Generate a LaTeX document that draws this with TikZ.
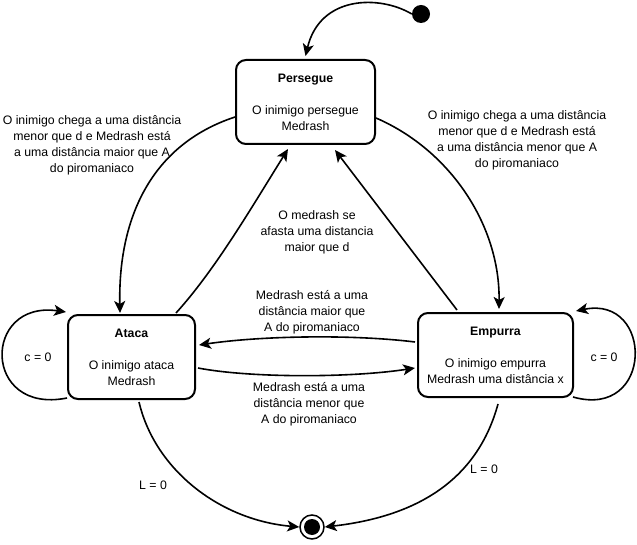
\documentclass[tikz,border=0pt]{standalone}
\usepackage{fontspec}
\setmainfont{Liberation Sans}
\usetikzlibrary{arrows.meta,calc}
\begin{document}
\begin{tikzpicture}[x=1pt,y=-1pt,
  font=\fontsize{12.3}{16}\selectfont,
  state/.style={draw,line width=2pt,rounded corners=10pt,align=center,minimum height=84pt,inner sep=0pt},
  lbl/.style={align=center,inner sep=0pt},
  tr/.style={line width=1.6pt,-{Stealth[length=12pt,width=11pt,inset=3pt]}},
]
\fill[white] (0,0) rectangle (637,545);
\useasboundingbox (0,0) rectangle (637,545);
% states
\node[state,minimum width=139pt] (p) at (305.5,102) {\textbf{Persegue}\\[16pt]O inimigo persegue\\Medrash};
\node[state,minimum width=127pt] (a) at (131.5,357) {\textbf{Ataca}\\[16pt]O inimigo ataca\\Medrash};
\node[state,minimum width=155pt] (e) at (495.5,355) {\textbf{Empurra}\\[16pt]O inimigo empurra\\Medrash uma distância x};
\node[circle,fill,inner sep=0pt,minimum size=18pt] (init) at (421,14) {};
\node[circle,draw,line width=1.5pt,inner sep=0pt,minimum size=24pt] (fin) at (312,527) {};
\node[circle,fill,inner sep=0pt,minimum size=16pt] (finc) at (fin) {};
% transitions
\draw[tr] (init.west) .. controls (380,-5) and (320,-5) .. ($(p.north)+(0,-3)$);
\draw[tr] ($(p.west)+(0,15)$) .. controls (150,145) and (118,220) .. ($(a.north)+(-11.5,-1)$);
\draw[tr] ($(a.north)+(44.5,-1)$) .. controls (215,270) and (250,210) .. ($(p.south)+(-17.5,4)$);
\draw[tr] ($(p.east)+(0,16)$) .. controls (450,150) and (500,225) .. ($(e.north)+(3.5,-3)$);
\draw[tr] ($(e.north)+(-38.5,-2)$) -- ($(p.south)+(29.5,5)$);
\draw[tr] ($(e.west)+(-2,-13)$) .. controls (350,334) and (260,336) .. ($(a.east)+(3,-12)$);
\draw[tr] ($(a.east)+(2,11)$) .. controls (250,378) and (350,378) .. ($(e.west)+(-2,13)$);
\draw[tr] ($(a.west)+(0,41)$) .. controls (-18,415) and (-18,300) .. ($(a.north west)+(-1,-2)$);
\draw[tr] ($(e.east)+(-1,42)$) .. controls (654,420) and (654,295) .. ($(e.north east)+(2,-1)$);
\draw[tr] ($(a.south)+(7.5,2)$) .. controls (155,470) and (220,520) .. (fin.west);
\draw[tr] ($(e.south)+(2.5,6)$) .. controls (480,470) and (430,515) .. (fin.east);
% labels
\node[lbl] (l1) at (92,145) {O inimigo chega a uma distância\\menor que d e Medrash está\\a uma distância maior que A\\do piromaniaco};
\node[lbl] (l2) at (517,140) {O inimigo chega a uma distância\\menor que d e Medrash está\\a uma distância menor que A\\do piromaniaco};
\node[lbl] (l3) at (317,232) {O medrash se\\afasta uma distancia\\maior que d};
\node[lbl] (l4) at (312,312) {Medrash está a uma\\distância maior que\\A do piromaniaco};
\node[lbl] (l5) at (309,404) {Medrash está a uma\\distância menor que\\A do piromaniaco};
\node[lbl] (c1) at (38,357) {c = 0};
\node[lbl] (c2) at (604,357) {c = 0};
\node[lbl] (L1) at (153,485) {L = 0};
\node[lbl] (L2) at (484,469) {L = 0};
\end{tikzpicture}
\end{document}
